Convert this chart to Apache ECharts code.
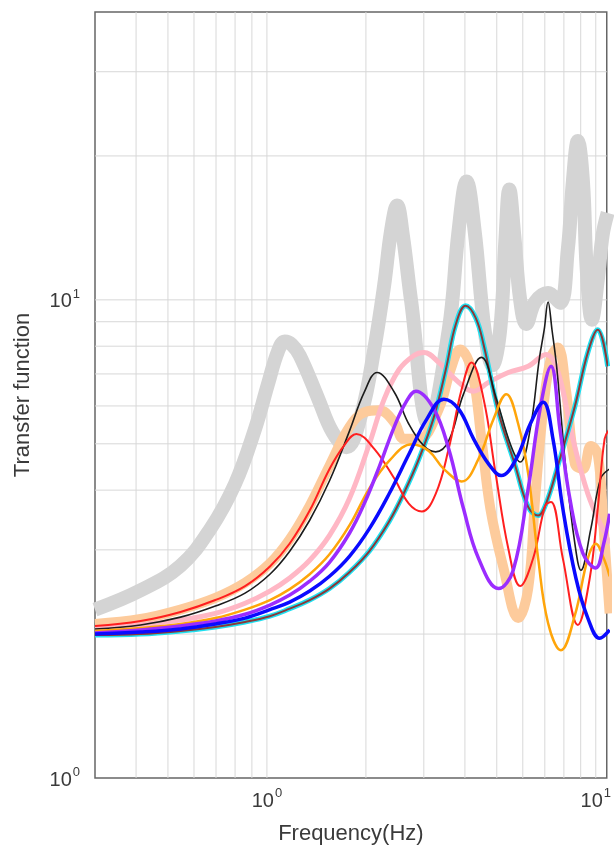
<!DOCTYPE html>
<html>
<head>
<meta charset="utf-8">
<script src="https://cdn.jsdelivr.net/npm/echarts@6/dist/echarts.min.js"></script>
<style>html,body{margin:0;padding:0;background:#fff}#c{width:614px;height:850px}</style>
</head>
<body>
<div id="c"></div>
<script>
// ---- axis ranges / grid values / labels ----
const xRange = [0.3, 10.8];
const yRange = [1, 40];
const xGridVals = [0.4, 0.5, 0.6, 0.7, 0.8, 0.9, 1, 2, 3, 4, 5, 6, 7, 8, 9, 10];
const yGridVals = [2, 3, 4, 5, 6, 7, 8, 9, 10, 20, 30];
const xTitle = 'Frequency(Hz)';
const yTitle = 'Transfer function';

// ---- series values: [frequency Hz, transfer function] ----
const grayVals = [[0.3,2.25],[0.413,2.47],[0.546,2.78],[0.673,3.32],[0.80,4.125],[0.92,5.37],[1.007,6.66],[1.08,7.80],[1.133,8.18],[1.19,8.06],[1.258,7.65],[1.426,6.26],[1.582,5.29],[1.745,4.92],[1.936,5.77],[2.119,7.87],[2.273,10.74],[2.386,13.98],[2.488,15.76],[2.59,13.65],[2.742,10.0],[3.106,5.5],[3.572,8.66],[3.828,13.98],[4.047,17.68],[4.28,13.98],[4.59,8.66],[4.85,7.3],[5.12,8.66],[5.31,13.3],[5.459,17.02],[5.65,13.65],[5.89,10.0],[6.145,8.9],[6.54,9.9],[7.16,10.34],[7.78,9.86],[8.22,12.71],[8.52,17.7],[8.82,21.5],[9.14,17.7],[9.39,11.54],[9.73,9.09],[10.14,11.0],[10.49,13.65],[10.87,15.2]];
const peachVals = [[0.3,2.10],[0.413,2.15],[0.546,2.25],[0.697,2.38],[0.858,2.56],[1.021,2.81],[1.173,3.155],[1.349,3.71],[1.55,4.50],[1.782,5.42],[1.977,5.82],[2.195,5.876],[2.437,5.55],[2.61,5.12],[2.9,5.12],[3.33,5.91],[3.62,7.15],[3.87,7.87],[4.2,7.1],[4.49,5.12],[4.78,3.66],[5.24,2.75],[5.81,2.16],[6.23,2.49],[6.54,3.84],[6.92,5.91],[7.31,7.58],[7.67,7.95],[8.11,6.5],[8.64,4.54],[9.14,4.43],[9.66,4.95],[10.14,4.76],[10.57,3.32],[11.02,2.21]];
const pinkVals = [[0.3,2.06],[0.413,2.09],[0.546,2.14],[0.697,2.21],[0.858,2.32],[1.021,2.46],[1.173,2.62],[1.349,2.853],[1.55,3.217],[1.782,3.84],[2.047,4.99],[2.273,6.20],[2.523,7.15],[2.80,7.65],[3.0,7.76],[3.33,7.4],[3.83,6.72],[4.25,6.44],[4.72,6.72],[5.42,7.05],[6.23,7.26],[7.06,7.69],[7.67,7.08],[8.52,5.12],[9.46,3.93],[10.49,3.32],[11.02,3.09]];
const cyanBrownVals = [[0.3,1.99],[0.413,2.0],[0.546,2.03],[0.697,2.07],[0.858,2.12],[1.021,2.18],[1.173,2.26],[1.349,2.356],[1.55,2.49],[1.782,2.694],[2.047,2.98],[2.353,3.44],[2.612,3.95],[2.899,4.65],[3.219,5.685],[3.50,7.15],[3.75,8.87],[4.02,9.72],[4.31,9.18],[4.56,8.06],[5.06,5.82],[5.69,4.5],[6.23,3.69],[6.68,3.54],[7.06,3.75],[7.67,4.5],[8.64,5.99],[9.46,7.76],[10.14,8.66],[10.87,7.26]];
const blackVals = [[0.3,2.05],[0.413,2.09],[0.546,2.17],[0.697,2.29],[0.858,2.436],[1.021,2.668],[1.173,2.98],[1.349,3.46],[1.55,4.184],[1.782,5.315],[1.977,6.41],[2.163,7.05],[2.44,6.41],[2.7,5.5],[3.0,4.95],[3.26,4.81],[3.57,5.07],[3.96,6.35],[4.49,7.58],[4.99,6.2],[5.5,4.99],[5.89,4.58],[6.32,5.37],[6.73,7.5],[6.97,8.66],[7.16,9.9],[7.36,8.66],[7.62,7.15],[8.11,4.43],[8.64,3.09],[9.01,2.72],[9.66,3.32],[10.35,4.23],[11.02,4.43]];
const redVals = [[0.3,2.08],[0.413,2.13],[0.546,2.225],[0.697,2.356],[0.858,2.52],[1.021,2.77],[1.173,3.094],[1.349,3.625],[1.55,4.43],[1.72,4.97],[1.87,5.24],[2.12,4.88],[2.44,4.23],[2.7,3.75],[2.96,3.61],[3.26,3.93],[3.57,4.88],[3.91,6.5],[4.19,7.4],[4.56,6.2],[4.95,4.37],[5.42,3.02],[5.89,2.52],[6.45,2.88],[7.02,3.71],[7.31,3.78],[7.94,2.88],[8.82,2.09],[9.59,2.62],[10.14,3.66],[10.64,5.12],[11.02,5.37]];
const orangeVals = [[0.3,2.03],[0.413,2.06],[0.546,2.10],[0.697,2.16],[0.858,2.25],[1.021,2.356],[1.173,2.483],[1.349,2.668],[1.55,2.937],[1.782,3.374],[2.047,4.03],[2.353,4.605],[2.761,4.99],[3.106,4.83],[3.45,4.43],[3.91,4.17],[4.4,4.65],[4.885,5.63],[5.346,6.35],[5.81,5.5],[6.23,4.33],[6.68,2.88],[7.16,2.11],[7.835,1.85],[8.64,2.19],[9.46,2.88],[10.0,3.09],[10.57,2.88],[11.02,2.64]];
const purpleVals = [[0.3,2.01],[0.413,2.04],[0.546,2.08],[0.697,2.13],[0.858,2.20],[1.021,2.30],[1.173,2.413],[1.349,2.58],[1.55,2.826],[1.782,3.25],[1.977,3.75],[2.195,4.474],[2.437,5.42],[2.648,6.11],[2.839,6.44],[3.22,5.91],[3.57,4.88],[3.96,3.66],[4.4,2.88],[5.06,2.49],[5.61,2.72],[6.23,4.03],[6.77,5.91],[7.31,7.26],[7.78,5.37],[8.34,3.84],[9.14,2.95],[10.0,2.75],[10.57,3.09],[11.02,3.57]];
const blueVals = [[0.3,2.0],[0.413,2.02],[0.546,2.05],[0.697,2.10],[0.858,2.16],[1.021,2.25],[1.173,2.333],[1.349,2.46],[1.55,2.642],[1.782,2.909],[2.047,3.32],[2.353,3.93],[2.704,4.76],[3.063,5.63],[3.451,6.20],[3.83,5.91],[4.25,5.12],[4.72,4.54],[5.16,4.29],[5.73,4.65],[6.32,5.5],[6.92,6.11],[7.41,5.12],[7.94,3.66],[8.7,2.62],[9.46,2.16],[10.28,1.96],[11.02,2.04]];

const FONT = 'Liberation Sans, Arial, sans-serif';
const TEXT = '#3a3a3a';
const gridColor = '#d8d8d8';

function powLabel(v) {
  const e = Math.log10(v);
  const r = Math.round(e);
  return Math.abs(e - r) < 1e-6 ? '{b|10}{s|' + r + '}' : '';
}
const labelRich = {
  b: { fontSize: 20, fontFamily: FONT, color: TEXT, lineHeight: 24, verticalAlign: 'bottom' },
  s: { fontSize: 13, fontFamily: FONT, color: TEXT, lineHeight: 24, verticalAlign: 'top', padding: [0, 0, 0, 1] }
};

const series = [];
xGridVals.forEach(x => series.push({
  type: 'line', data: [[x, yRange[0]], [x, yRange[1]]], symbol: 'none', silent: true, z: 1,
  lineStyle: { color: gridColor, width: 1 }
}));
yGridVals.forEach(y => series.push({
  type: 'line', data: [[xRange[0], y], [xRange[1], y]], symbol: 'none', silent: true, z: 1,
  lineStyle: { color: gridColor, width: 1 }
}));

function curve(name, data, color, width, z) {
  return {
    name, type: 'line', data, symbol: 'none', smooth: 0.4, z,
    lineStyle: { color, width, cap: 'butt', join: 'round' }
  };
}
series.push(curve('gray', grayVals, '#d4d4d4', 14, 2));
series.push(curve('peach', peachVals, '#fdcb9c', 10, 3));
series.push(curve('pink', pinkVals, '#ffb7c5', 5, 4));
series.push(curve('cyan', cyanBrownVals, '#1fe0f0', 5, 5));
series.push(curve('brown', cyanBrownVals, '#8b3838', 2, 6));
series.push(curve('black', blackVals, '#1c1c1c', 1.6, 7));
series.push(curve('red', redVals, '#ff1f1f', 2, 8));
series.push(curve('orange', orangeVals, '#ffa50a', 2.5, 9));
series.push(curve('purple', purpleVals, '#9b2cff', 3.5, 10));
series.push(curve('blue', blueVals, '#0a0aff', 3.5, 11));

const chart = echarts.init(document.getElementById('c'), null, { renderer: 'canvas' });
chart.setOption({
  animation: false,
  backgroundColor: '#fff',
  grid: { left: 95, right: 5, top: 12, bottom: 69, show: true, borderColor: '#666', borderWidth: 1.5, backgroundColor: 'transparent', containLabel: false },
  xAxis: {
    type: 'log', logBase: 10, min: xRange[0], max: xRange[1],
    name: xTitle, nameLocation: 'middle', nameGap: 45,
    nameTextStyle: { fontSize: 22, fontFamily: FONT, color: TEXT },
    axisLine: { show: false }, axisTick: { show: false }, splitLine: { show: false }, minorTick: { show: false },
    axisLabel: { formatter: powLabel, rich: labelRich, margin: 9, showMinLabel: false, showMaxLabel: false }
  },
  yAxis: {
    type: 'log', logBase: 10, min: yRange[0], max: yRange[1],
    name: yTitle, nameLocation: 'middle', nameGap: 61, nameRotate: 90,
    nameTextStyle: { fontSize: 22, fontFamily: FONT, color: TEXT },
    axisLine: { show: false }, axisTick: { show: false }, splitLine: { show: false },
    axisLabel: { formatter: powLabel, rich: labelRich, margin: 15, showMaxLabel: false }
  },
  series
});
</script>
</body>
</html>
